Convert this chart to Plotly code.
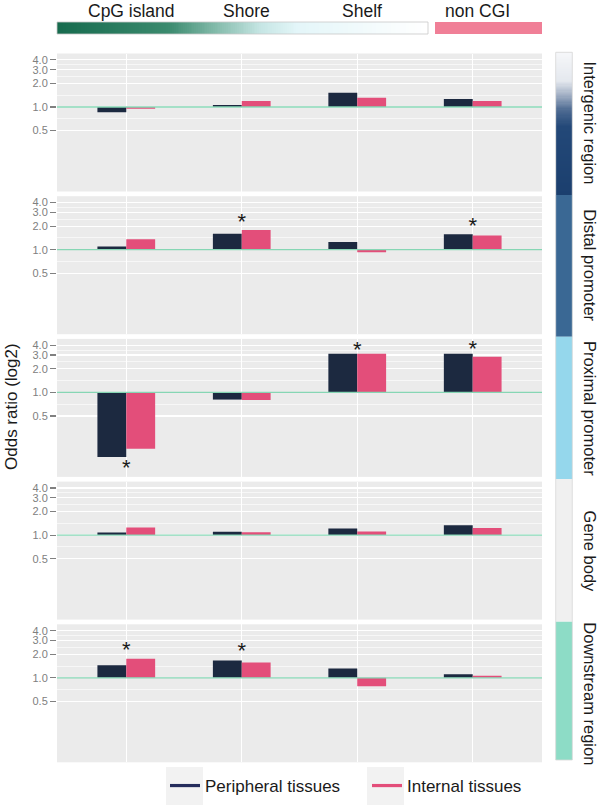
import numpy as np
import plotly.graph_objects as go

# ---------------- data ----------------
categories = ["CpG island", "Shore", "Shelf", "non CGI"]
regions = ["Intergenic region", "Distal promoter", "Proximal promoter",
           "Gene body", "Downstream region"]
series_names = ["Peripheral tissues", "Internal tissues"]

peripheral_intergenic = [0.86, 1.06, 1.52, 1.27]
internal_intergenic = [0.95, 1.19, 1.31, 1.19]
peripheral_distal = [1.10, 1.60, 1.25, 1.58]
internal_distal = [1.36, 1.78, 0.93, 1.52]
peripheral_proximal = [0.15, 0.81, 3.11, 3.11]
internal_proximal = [0.19, 0.80, 3.11, 2.85]
peripheral_genebody = [1.08, 1.10, 1.21, 1.34]
internal_genebody = [1.25, 1.09, 1.11, 1.23]
peripheral_downstream = [1.45, 1.66, 1.31, 1.11]
internal_downstream = [1.75, 1.57, 0.78, 1.06]

# significance stars: panel index, category index, odds-ratio position
sig_region = [1, 1, 2, 2, 2, 4, 4]
sig_category = [1, 3, 0, 2, 3, 0, 1]
sig_odds = [2.13, 1.91, 0.103, 3.32, 3.48, 2.19, 2.08]

y_ticks = [0.5, 1.0, 2.0, 3.0, 4.0]
y_tick_labels = ["0.5", "1.0", "2.0", "3.0", "4.0"]

peripheral = [peripheral_intergenic, peripheral_distal, peripheral_proximal,
              peripheral_genebody, peripheral_downstream]
internal = [internal_intergenic, internal_distal, internal_proximal,
            internal_genebody, internal_downstream]

# ---------------- styling ----------------
W, H = 600, 810
FONT = "Liberation Sans, Arial, Helvetica, sans-serif"
C_PERI = "#1c2940"
C_INT = "#e34e7a"
C_PERI_LEG = "#252d5c"
PANEL_BG = "#EBEBEB"
REF_LINE = "#86d6b4"
TICK_GREY = "#808080"
strip_colors = [None, "#3a6894", "#95d7ec", "#f0f0f0", "#8ddcc6"]


def fx(p):
    return p / W


def fy(p):
    return 1 - p / H


panel_tops = [53.5, 196.2, 338.9, 481.6, 624.3]
panel_h = 138.0
x_left, x_right = 57.0, 542.0
strip_bounds = [52.3, 195.0, 336.7, 479.0, 621.7, 760.0]
strip_x0, strip_x1 = 555.7, 572.3

fig = go.Figure()
layout = dict(
    width=W, height=H,
    margin=dict(l=0, r=0, t=0, b=0),
    paper_bgcolor="white",
    plot_bgcolor=PANEL_BG,
    barmode="overlay",
    font=dict(family=FONT, color="#1a1a1a"),
    showlegend=True,
)

log_ticks = list(np.log2(y_ticks))
minor_vals = [(log_ticks[i] + log_ticks[i + 1]) / 2 for i in range(len(log_ticks) - 1)]
shapes = []
annotations = []

for i, reg in enumerate(regions):
    k = "" if i == 0 else str(i + 1)
    xa, ya = "x" + k, "y" + k
    top = panel_tops[i]
    layout["xaxis" + k] = dict(
        domain=[fx(x_left), fx(x_right)], anchor=ya, range=[-0.6, 3.6],
        tickvals=list(range(len(categories))), showticklabels=False, ticks="",
        showgrid=True, gridcolor="white", gridwidth=1.4, zeroline=False,
        showline=False, fixedrange=True,
    )
    layout["yaxis" + k] = dict(
        domain=[fy(top + panel_h), fy(top)], anchor=xa, range=[-3.585, 2.27],
        tickvals=log_ticks, ticktext=y_tick_labels, ticks="outside",
        ticklen=6, tickwidth=1.1, tickcolor=TICK_GREY,
        tickfont=dict(size=11, color=TICK_GREY, family=FONT),
        showgrid=True, gridcolor="white", gridwidth=1.2, zeroline=False,
        showline=False,
        minor=dict(tickvals=minor_vals, showgrid=True, gridcolor="white",
                   gridwidth=0.6, ticks=""),
    )
    fig.add_trace(go.Bar(
        x=list(range(len(categories))), y=np.log2(peripheral[i]),
        width=0.25, offset=-0.25, marker=dict(color=C_PERI, line=dict(width=0)),
        xaxis=xa, yaxis=ya, showlegend=False, name=series_names[0],
    ))
    fig.add_trace(go.Bar(
        x=list(range(len(categories))), y=np.log2(internal[i]),
        width=0.25, offset=0.0, marker=dict(color=C_INT, line=dict(width=0)),
        xaxis=xa, yaxis=ya, showlegend=False, name=series_names[1],
    ))
    # stars for this panel
    sx = [c for r, c in zip(sig_region, sig_category) if r == i]
    sy = [np.log2(o) for r, o in zip(sig_region, sig_odds) if r == i]
    if sx:
        fig.add_trace(go.Scatter(
            x=sx, y=sy, mode="text", text=["*"] * len(sx),
            textposition="middle center",
            textfont=dict(size=22, color="#1a1a1a", family=FONT),
            xaxis=xa, yaxis=ya, showlegend=False, hoverinfo="skip",
        ))
    # reference line at odds ratio 1
    shapes.append(dict(type="line", xref=xa + " domain", x0=0, x1=1,
                       yref=ya, y0=np.log2(1.0), y1=np.log2(1.0),
                       line=dict(color=REF_LINE, width=1.3), layer="above"))
    # strip label
    annotations.append(dict(
        text=reg, xref="paper", yref="paper", x=fx(590), y=fy(top + panel_h / 2),
        textangle=90, showarrow=False, xanchor="center", yanchor="middle",
        font=dict(size=16.5, color="#1a1a1a", family=FONT)))
    # solid strip segments
    if strip_colors[i] is not None:
        shapes.append(dict(type="rect", xref="paper", yref="paper",
                           x0=fx(strip_x0), x1=fx(strip_x1),
                           y0=fy(strip_bounds[i + 1]), y1=fy(strip_bounds[i]),
                           fillcolor=strip_colors[i], line=dict(width=0),
                           layer="below"))

# gradient strip for the intergenic region (vertical)
fig.add_trace(go.Heatmap(
    z=[[v] for v in np.linspace(0, 1, 120)], xaxis="x7", yaxis="y7",
    colorscale=[[0, "#f6f7f9"], [0.2, "#e4e8ee"], [0.3, "#a0aec3"],
    [0.4, "#4f6c93"], [0.52, "#234878"], [1, "#1b3f6e"]],
    showscale=False, hoverinfo="skip",
))
layout["xaxis7"] = dict(domain=[fx(strip_x0), fx(strip_x1)], anchor="y7",
                        visible=False, fixedrange=True)
layout["yaxis7"] = dict(domain=[fy(strip_bounds[1]), fy(strip_bounds[0])],
                        anchor="x7", visible=False, autorange="reversed")
shapes.append(dict(type="rect", xref="paper", yref="paper",
                   x0=fx(strip_x0), x1=fx(strip_x1),
                   y0=fy(strip_bounds[-1]), y1=fy(strip_bounds[0]),
                   line=dict(color="#d8d8d8", width=0.8), layer="above"))

# top colour key: CpG context gradient + non CGI
fig.add_trace(go.Heatmap(
    z=[list(np.linspace(0, 1, 200))], xaxis="x6", yaxis="y6",
    colorscale=[[0, "#176b4e"], [0.3, "#3b8a6e"], [0.42, "#7fb8a7"],
    [0.55, "#c6e6e4"], [0.65, "#e4f6f9"], [1, "#ffffff"]],
    showscale=False, hoverinfo="skip",
))
layout["xaxis6"] = dict(domain=[fx(57), fx(428)], anchor="y6", visible=False,
                        fixedrange=True)
layout["yaxis6"] = dict(domain=[fy(34), fy(22)], anchor="x6", visible=False)
shapes.append(dict(type="rect", xref="paper", yref="paper", x0=fx(57), x1=fx(428),
                   y0=fy(34), y1=fy(22), line=dict(color="#c8c8c8", width=0.8),
                   layer="above"))
shapes.append(dict(type="rect", xref="paper", yref="paper", x0=fx(435), x1=fx(542),
                   y0=fy(34), y1=fy(22), fillcolor="#f07f97", line=dict(width=0),
                   layer="below"))
for j, cat in enumerate(categories):
    annotations.append(dict(
        text=cat, xref="x", yref="paper", x=j, xshift=5, y=fy(11),
        showarrow=False, xanchor="center", yanchor="middle",
        font=dict(size=17.5, color="#1a1a1a", family=FONT)))

# y axis title
annotations.append(dict(
    text="Odds ratio (log2)", xref="paper", yref="paper", x=fx(11), y=fy(407),
    textangle=-90, showarrow=False, xanchor="center", yanchor="middle",
    font=dict(size=17, color="#1a1a1a", family=FONT)))

# legend entries (line keys)
fig.add_trace(go.Scatter(x=[None], y=[None], mode="lines", name=series_names[0],
                         line=dict(color=C_PERI_LEG, width=3.2)))
fig.add_trace(go.Scatter(x=[None], y=[None], mode="lines", name=series_names[1],
                         line=dict(color=C_INT, width=3.2)))
for x0 in (166, 367):
    shapes.append(dict(type="rect", xref="paper", yref="paper", x0=fx(x0),
                       x1=fx(x0 + 37), y0=fy(805), y1=fy(767),
                       fillcolor="#f2f2f2", line=dict(width=0), layer="below"))

layout["legend"] = dict(orientation="h", x=fx(165), y=fy(786), xanchor="left",
                        yanchor="middle", font=dict(size=17, color="#1a1a1a",
                                                     family=FONT),
                        bgcolor="rgba(0,0,0,0)", itemwidth=30,
                        entrywidth=157, entrywidthmode="pixels",
                        tracegroupgap=0)
layout["shapes"] = shapes
layout["annotations"] = annotations
fig.update_layout(**layout)

fig.write_html("out.html",
               config={"displayModeBar": False, "staticPlot": True},
               post_script="document.body.style.margin='0px';"
                           "document.body.style.overflow='hidden';")
